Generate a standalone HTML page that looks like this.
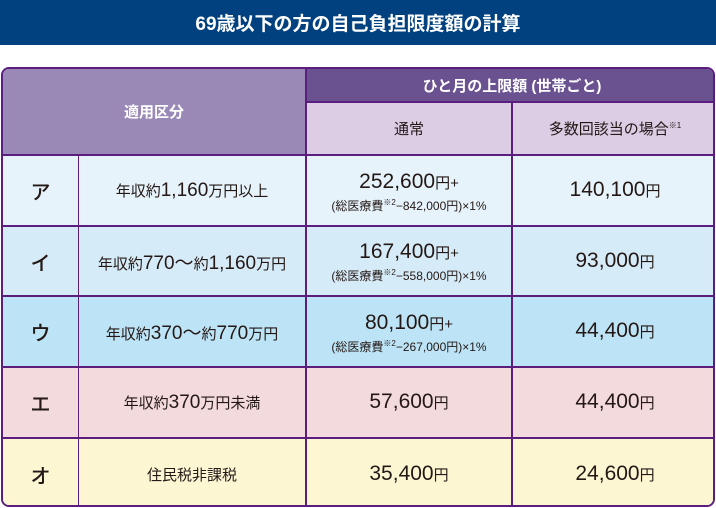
<!DOCTYPE html>
<html><head><meta charset="utf-8">
<style>
*{margin:0;padding:0;box-sizing:border-box}
body{width:716px;height:508px;background:#fff;font-family:"Liberation Sans","Noto Sans CJK JP",sans-serif;position:relative;overflow:hidden;color:#231815}
.t{position:absolute;left:0;top:0;width:716px;height:45px;background:#02417F;color:#fff;font-weight:bold;font-size:19px;display:flex;align-items:center;justify-content:center}
.tbl{position:absolute;left:1px;top:67px;width:714px;height:440px;border:2px solid #5B1E7F;border-radius:8px;overflow:hidden}
.c{position:absolute;display:flex;flex-direction:column;align-items:center;justify-content:center;text-align:center;border-right:2px solid #5B1E7F;border-bottom:2px solid #5B1E7F}
.s{font-size:12px;line-height:14px}
.big{font-size:21px;line-height:25px}
.mid{font-size:15px}
.k{font-size:20px;font-weight:500}
sup{font-size:8px}
</style></head><body>
<div class="t">69歳以下の方の自己負担限度額の計算</div>
<div class="tbl">
<div class="c" style="left:0;top:0;width:304px;height:87px;background:#9A88B6;color:#fff;font-weight:bold;font-size:15px">適用区分</div>
<div class="c" style="left:304px;top:0;width:410px;height:34px;background:#6A5190;color:#fff;font-weight:bold;font-size:15px;border-right:none">ひと月の上限額 (世帯ごと)</div>
<div class="c" style="left:304px;top:34px;width:206px;height:53px;background:#DCCCE4;font-size:15px">通常</div>
<div class="c" style="left:510px;top:34px;width:204px;height:53px;background:#DCCCE4;font-size:15px;border-right:none"><span>多数回該当の場合<sup>※1</sup></span></div>

<div class="c" style="left:0;top:87px;width:76px;height:71px;background:#E6F3FB;border-right-width:1px"><span class="k">ア</span></div>
<div class="c mid" style="left:76px;top:87px;width:228px;height:71px;background:#E6F3FB"><span>年収約<span style="font-size:19px">1,160</span>万円以上</span></div>
<div class="c" style="left:304px;top:87px;width:206px;height:71px;background:#E6F3FB"><span class="big">252,600<span style="font-size:15px">円+</span></span><span class="s">(総医療費<sup>※2</sup>−842,000円)×1%</span></div>
<div class="c big" style="left:510px;top:87px;width:204px;height:71px;background:#E6F3FB;border-right:none"><span>140,100<span style="font-size:15px">円</span></span></div>

<div class="c" style="left:0;top:158px;width:76px;height:70px;background:#D6EBF8;border-right-width:1px"><span class="k">イ</span></div>
<div class="c mid" style="left:76px;top:158px;width:228px;height:70px;background:#D6EBF8"><span>年収約<span style="font-size:19px">770～</span>約<span style="font-size:19px">1,160</span>万円</span></div>
<div class="c" style="left:304px;top:158px;width:206px;height:70px;background:#D6EBF8"><span class="big">167,400<span style="font-size:15px">円+</span></span><span class="s">(総医療費<sup>※2</sup>−558,000円)×1%</span></div>
<div class="c big" style="left:510px;top:158px;width:204px;height:70px;background:#D6EBF8;border-right:none"><span>93,000<span style="font-size:15px">円</span></span></div>

<div class="c" style="left:0;top:228px;width:76px;height:71px;background:#BDE4F6;border-right-width:1px"><span class="k">ウ</span></div>
<div class="c mid" style="left:76px;top:228px;width:228px;height:71px;background:#BDE4F6"><span>年収約<span style="font-size:19px">370～</span>約<span style="font-size:19px">770</span>万円</span></div>
<div class="c" style="left:304px;top:228px;width:206px;height:71px;background:#BDE4F6"><span class="big">80,100<span style="font-size:15px">円+</span></span><span class="s">(総医療費<sup>※2</sup>−267,000円)×1%</span></div>
<div class="c big" style="left:510px;top:228px;width:204px;height:71px;background:#BDE4F6;border-right:none"><span>44,400<span style="font-size:15px">円</span></span></div>

<div class="c" style="left:0;top:299px;width:76px;height:71px;background:#F3DADC;border-right-width:1px"><span class="k">エ</span></div>
<div class="c mid" style="left:76px;top:299px;width:228px;height:71px;background:#F3DADC"><span>年収約<span style="font-size:19px">370</span>万円未満</span></div>
<div class="c big" style="left:304px;top:299px;width:206px;height:71px;background:#F3DADC"><span>57,600<span style="font-size:15px">円</span></span></div>
<div class="c big" style="left:510px;top:299px;width:204px;height:71px;background:#F3DADC;border-right:none"><span>44,400<span style="font-size:15px">円</span></span></div>

<div class="c" style="left:0;top:370px;width:76px;height:70px;background:#FDF6D3;border-right-width:1px;border-bottom:none"><span class="k">オ</span></div>
<div class="c mid" style="left:76px;top:370px;width:228px;height:70px;background:#FDF6D3;border-bottom:none">住民税非課税</div>
<div class="c big" style="left:304px;top:370px;width:206px;height:70px;background:#FDF6D3;border-bottom:none"><span>35,400<span style="font-size:15px">円</span></span></div>
<div class="c big" style="left:510px;top:370px;width:204px;height:70px;background:#FDF6D3;border-right:none;border-bottom:none"><span>24,600<span style="font-size:15px">円</span></span></div>
</div>
</body></html>
